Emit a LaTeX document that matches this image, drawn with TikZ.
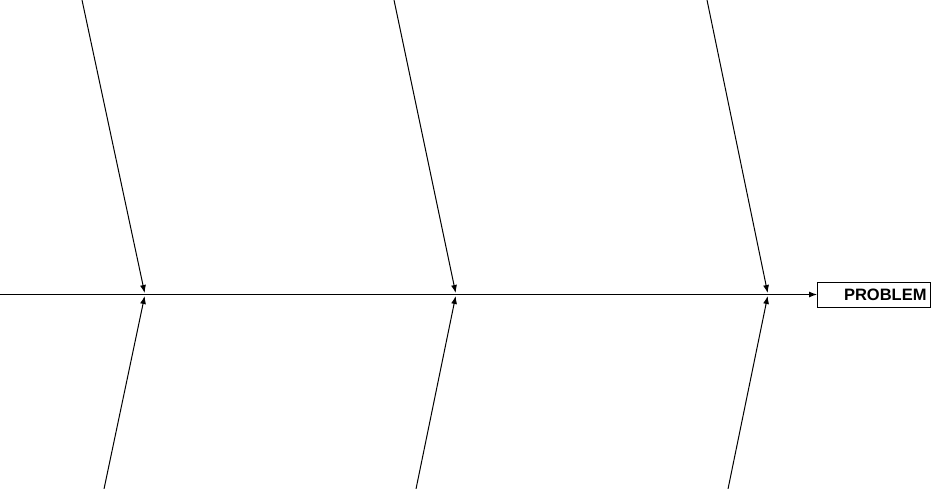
\documentclass[tikz,border=0pt]{standalone}
\usepackage{fontspec}
\setmainfont{Liberation Sans}
\usetikzlibrary{arrows.meta}
\begin{document}
\begin{tikzpicture}[x=1pt,y=-1pt,
  bone/.style={line width=1pt,-{Latex[length=8pt,width=6pt]},shorten >=1.5pt},
  spine/.style={line width=1pt,-{Latex[length=8pt,width=6pt]}},
  probbox/.style={draw,line width=1pt,rectangle,minimum width=113pt,minimum height=25pt,
    text width=105pt,align=right,inner sep=4pt,font=\bfseries\fontsize{16.5}{17}\selectfont}]
\useasboundingbox (0,0) rectangle (932,489);
\node[probbox,anchor=west] (prob) at (817,294.5) {PROBLEM};
\coordinate (s0) at (0,294.5);
\coordinate (j1) at (145,294.5);
\coordinate (j2) at (456,294.5);
\coordinate (j3) at (768,294.5);
\coordinate (t1) at (82,0);
\coordinate (t2) at (394,0);
\coordinate (t3) at (707,0);
\coordinate (b1) at (104,489);
\coordinate (b2) at (416,489);
\coordinate (b3) at (728,489);
\draw[spine] (s0) -- (prob.west);
\foreach \i in {1,2,3}{
  \draw[bone] (t\i) -- (j\i);
  \draw[bone] (b\i) -- (j\i);
}
\end{tikzpicture}
\end{document}
